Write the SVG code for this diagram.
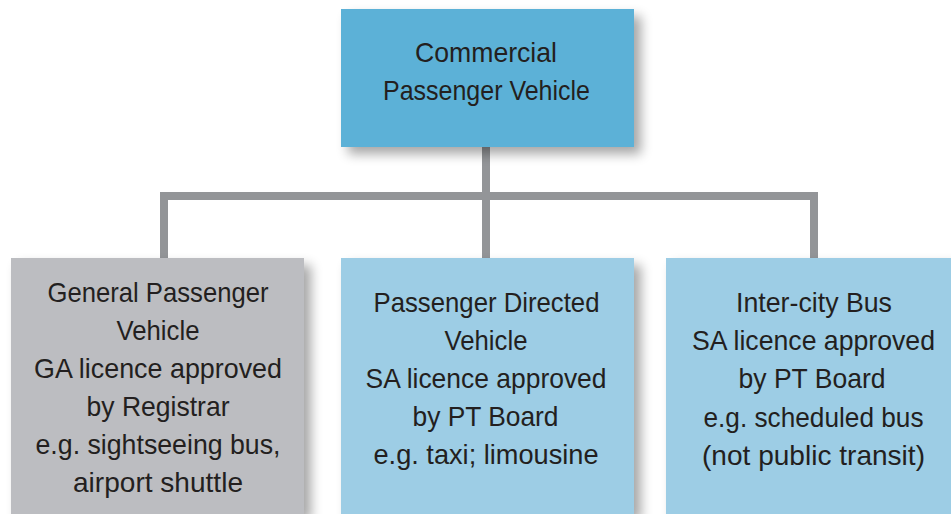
<svg xmlns="http://www.w3.org/2000/svg" width="951" height="514" viewBox="0 0 951 514">
<style>
.t{font-family:"Liberation Sans",Arial,sans-serif;font-size:28px;fill:#231F20;text-anchor:middle}
.top{fill:#5CB1D7}
.blue{fill:#9DCDE5}
.gray{fill:#BCBDC1}
.conn{fill:none;stroke:#939598;stroke-width:8}
</style>
<defs>
<filter id="sh" x="-20%" y="-20%" width="150%" height="150%">
<feGaussianBlur in="SourceAlpha" stdDeviation="6"/>
<feOffset dx="7" dy="7" result="b"/>
<feComponentTransfer><feFuncA type="linear" slope="0.35"/></feComponentTransfer>
<feMerge><feMergeNode/><feMergeNode in="SourceGraphic"/></feMerge>
</filter>
</defs>
<rect width="951" height="514" fill="#FFFFFF"/>
<g id="connectors">
<path class="conn" d="M486 147 V258 M164 258 V196 H814 V258"/>
</g>
<g id="commercial">
<rect class="top" x="341" y="9" width="293" height="138" filter="url(#sh)"/>
<text class="t" x="486" y="62" textLength="142" lengthAdjust="spacingAndGlyphs">Commercial</text>
<text class="t" x="486.5" y="100" textLength="207" lengthAdjust="spacingAndGlyphs">Passenger Vehicle</text>
</g>
<g id="general">
<rect class="gray" x="11" y="258" width="293" height="256" filter="url(#sh)"/>
<text class="t" x="158" y="302" textLength="221" lengthAdjust="spacingAndGlyphs">General Passenger</text>
<text class="t" x="158" y="340" textLength="83" lengthAdjust="spacingAndGlyphs">Vehicle</text>
<text class="t" x="158" y="378" textLength="248" lengthAdjust="spacingAndGlyphs">GA licence approved</text>
<text class="t" x="158" y="416" textLength="143" lengthAdjust="spacingAndGlyphs">by Registrar</text>
<text class="t" x="158" y="454" textLength="245" lengthAdjust="spacingAndGlyphs">e.g. sightseeing bus,</text>
<text class="t" x="158" y="492" textLength="170" lengthAdjust="spacingAndGlyphs">airport shuttle</text>
</g>
<g id="directed">
<rect class="blue" x="341" y="258" width="293" height="256" filter="url(#sh)"/>
<text class="t" x="486.5" y="312" textLength="226" lengthAdjust="spacingAndGlyphs">Passenger Directed</text>
<text class="t" x="486" y="350" textLength="83" lengthAdjust="spacingAndGlyphs">Vehicle</text>
<text class="t" x="486" y="388" textLength="241" lengthAdjust="spacingAndGlyphs">SA licence approved</text>
<text class="t" x="485.5" y="426" textLength="146" lengthAdjust="spacingAndGlyphs">by PT Board</text>
<text class="t" x="486" y="464" textLength="225" lengthAdjust="spacingAndGlyphs">e.g. taxi; limousine</text>
</g>
<g id="intercity">
<rect class="blue" x="666" y="258" width="285" height="256" filter="url(#sh)"/>
<text class="t" x="814" y="312" textLength="156" lengthAdjust="spacingAndGlyphs">Inter-city Bus</text>
<text class="t" x="813.5" y="350" textLength="243" lengthAdjust="spacingAndGlyphs">SA licence approved</text>
<text class="t" x="812" y="388" textLength="147" lengthAdjust="spacingAndGlyphs">by PT Board</text>
<text class="t" x="813.5" y="426.5" textLength="220" lengthAdjust="spacingAndGlyphs">e.g. scheduled bus</text>
<text class="t" x="813.5" y="465" textLength="223" lengthAdjust="spacingAndGlyphs">(not public transit)</text>
</g>
</svg>
